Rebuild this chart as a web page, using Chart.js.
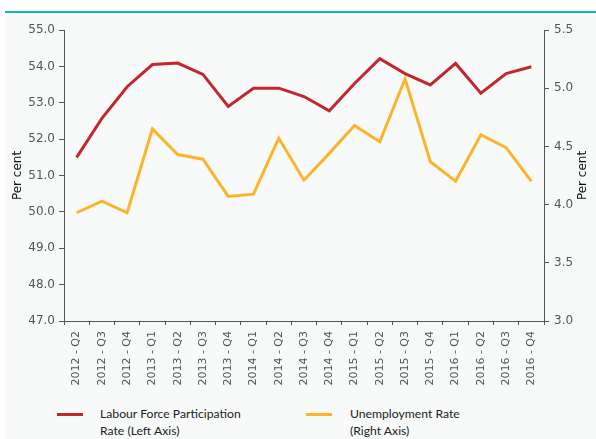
<!DOCTYPE html>
<html>
<head>
<meta charset="utf-8">
<script src="https://cdn.jsdelivr.net/npm/chart.js@4"></script>
<style>
    html, body { margin: 0; padding: 0; background: #fff; }
    #page { position: relative; width: 596px; height: 439px; overflow: hidden; }
    #band { position: absolute; left: 5px; top: 11px; width: 591px; height: 2px; background: #17b1c0; }
    #panel { position: absolute; left: 5px; top: 13px; width: 591px; height: 426px; background: #f8fafa; }
    #chart-wrap { position: absolute; left: 5px; top: 14px; width: 591px; height: 380px; }
    .legend-item { position: absolute; top: 405px; font-family: Lato, sans-serif; font-size: 12.2px; line-height: 17px; color: #222; }
    .legend-line { position: absolute; top: 413px; height: 3px; width: 26px; }
</style>
</head>
<body>
<div id="page">
    <div id="band"></div>
    <div id="panel"></div>
    <div id="chart-wrap"><canvas id="lfChart" width="591" height="380"></canvas></div>
    <div class="legend-line" style="left:57px; background:#c1272d;"></div>
    <div class="legend-item" style="left:100px;">Labour Force Participation<br>Rate (Left Axis)</div>
    <div class="legend-line" style="left:306px; background:#fbb42c;"></div>
    <div class="legend-item" style="left:350px;">Unemployment Rate<br>(Right Axis)</div>
</div>
<script>
// quarters on the x axis
const quarters = [
    '2012 - Q2', '2012 - Q3', '2012 - Q4',
    '2013 - Q1', '2013 - Q2', '2013 - Q3', '2013 - Q4',
    '2014 - Q1', '2014 - Q2', '2014 - Q3', '2014 - Q4',
    '2015 - Q1', '2015 - Q2', '2015 - Q3', '2015 - Q4',
    '2016 - Q1', '2016 - Q2', '2016 - Q3', '2016 - Q4'
];

// left axis, per cent
const participationRate = [51.50, 52.57, 53.44, 54.05, 54.09, 53.78, 52.90, 53.40, 53.40, 53.17,
    52.78, 53.53, 54.21, 53.80, 53.49, 54.08, 53.26, 53.80, 53.99];

// right axis, per cent
const unemploymentRate = [3.93, 4.03, 3.93, 4.65, 4.43, 4.39, 4.07, 4.09, 4.57, 4.21,
    4.44, 4.68, 4.54, 5.08, 4.37, 4.20, 4.60, 4.49, 4.20];

const axisTitle = 'Per cent';
const axisColor = '#555';
const tickFont = { family: 'DejaVu Sans', size: 12 };

// draws both "Per cent" titles reading bottom-to-top
const axisTitles = {
    id: 'axisTitles',
    afterDraw(chart) {
        const ctx = chart.ctx;
        const area = chart.chartArea;
        const midY = (area.top + area.bottom) / 2;
        ctx.save();
        ctx.fillStyle = '#111';
        ctx.font = '12px "DejaVu Sans"';
        ctx.textAlign = 'center';
        ctx.textBaseline = 'middle';
        [13, 578].forEach(x => {
            ctx.save();
            ctx.translate(x, midY);
            ctx.rotate(-Math.PI / 2);
            ctx.fillText(axisTitle, 0, 0);
            ctx.restore();
        });
        ctx.restore();
    }
};

new Chart(document.getElementById('lfChart'), {
    type: 'line',
    data: {
        labels: quarters,
        datasets: [
            {
                label: 'Labour Force Participation Rate (Left Axis)',
                data: participationRate,
                yAxisID: 'yLeft',
                borderColor: '#c1272d',
                borderWidth: 3,
                pointRadius: 0,
                tension: 0
            },
            {
                label: 'Unemployment Rate (Right Axis)',
                data: unemploymentRate,
                yAxisID: 'yRight',
                borderColor: '#fbb42c',
                borderWidth: 3,
                pointRadius: 0,
                tension: 0
            }
        ]
    },
    options: {
        responsive: false,
        animation: false,
        layout: { padding: { top: 16, left: 0, right: 0, bottom: 0 } },
        plugins: {
            legend: { display: false },
            tooltip: { enabled: false }
        },
        scales: {
            x: {
                offset: true,
                grid: { offset: true, drawOnChartArea: false, tickLength: 4, color: axisColor },
                border: { color: axisColor },
                ticks: { color: axisColor, font: { family: 'DejaVu Sans', size: 11 }, minRotation: 90, maxRotation: 90, padding: 6, autoSkip: false },
                afterFit: scale => { scale.height = 73; }
            },
            yLeft: {
                position: 'left',
                min: 47, max: 55,
                grid: { drawOnChartArea: false, tickLength: 5, color: axisColor },
                border: { color: axisColor },
                ticks: { stepSize: 1, color: axisColor, font: tickFont, padding: 4, callback: v => v.toFixed(1) },
                afterFit: scale => { scale.width = 59; }
            },
            yRight: {
                position: 'right',
                min: 3, max: 5.5,
                grid: { drawOnChartArea: false, tickLength: 5, color: axisColor },
                border: { color: axisColor },
                ticks: { stepSize: 0.5, color: axisColor, font: tickFont, padding: 5, callback: v => v.toFixed(1) },
                afterFit: scale => { scale.width = 52; }
            }
        }
    },
    plugins: [axisTitles]
});
</script>
</body>
</html>
